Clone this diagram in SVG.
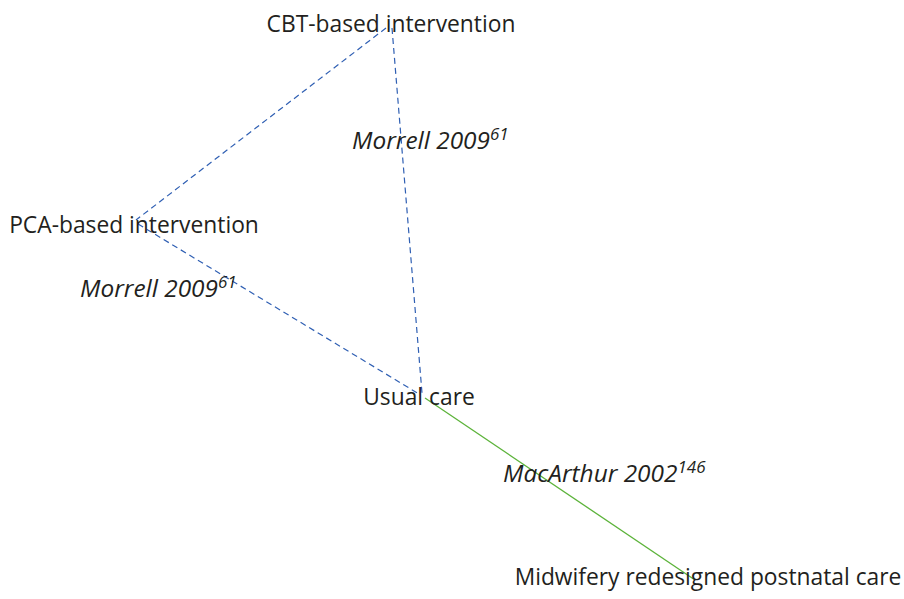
<svg xmlns="http://www.w3.org/2000/svg" width="904" height="599" viewBox="0 0 904 599">
<style>
.lbl{font-family:"Open Sans","Liberation Sans",sans-serif;font-size:22.8px;fill:#231f20}
.ref{font-family:"Open Sans","Liberation Sans",sans-serif;font-size:24.4px;font-style:italic;fill:#231f20}
.sup{font-size:17px}
.d{stroke:#2f5fb3;stroke-width:1.2;stroke-dasharray:6 4;fill:none}
.g{stroke:#5cb33a;stroke-width:1.3;fill:none}
</style>
<rect width="904" height="599" fill="#fff"/>
<g id="connectors">
<line class="d" x1="386" y1="28" x2="136" y2="220"/>
<line class="d" x1="392" y1="28" x2="422" y2="393"/>
<line class="d" x1="138" y1="224" x2="419" y2="394"/>
<line class="g" x1="425" y1="398" x2="695" y2="580"/>
<text class="ref" x="352" y="149">Morrell 2009<tspan class="sup" dy="-9">61</tspan></text>
<text class="ref" x="80" y="297">Morrell 2009<tspan class="sup" dy="-9">61</tspan></text>
<text class="ref" x="503" y="482">MacArthur 2002<tspan class="sup" dy="-9">146</tspan></text>
</g>
<g id="node-cbt"><text class="lbl" x="391" y="32" text-anchor="middle">CBT-based intervention</text></g>
<g id="node-pca"><text class="lbl" x="134" y="233" text-anchor="middle">PCA-based intervention</text></g>
<g id="node-usual"><text class="lbl" x="419" y="405" text-anchor="middle">Usual care</text></g>
<g id="node-midwifery"><text class="lbl" x="708" y="585" text-anchor="middle">Midwifery redesigned postnatal care</text></g>
</svg>
